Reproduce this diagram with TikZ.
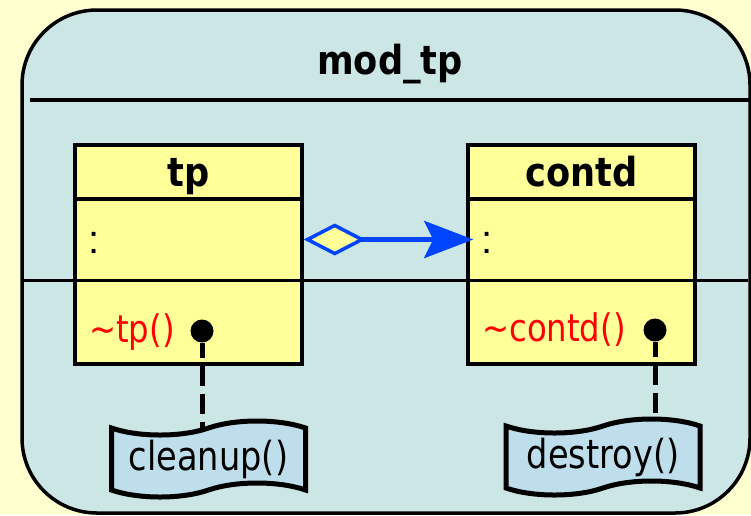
\documentclass[tikz,border=0pt]{standalone}
\usepackage{fontspec}
\usetikzlibrary{arrows.meta,shapes.symbols}
\newfontfamily\uifont[FakeStretch=0.85]{DejaVu Sans}
\newfontfamily\notefont[FakeStretch=0.84]{DejaVu Sans}
\newfontfamily\namefont[FakeStretch=0.88]{DejaVu Sans Bold}
\newfontfamily\titlefont[FakeStretch=0.88]{DejaVu Sans Bold}
\newfontfamily\colonfont{Liberation Sans}
\definecolor{paper}{RGB}{255,255,208}
\definecolor{pkgfill}{RGB}{204,229,229}
\definecolor{classfill}{RGB}{255,255,153}
\definecolor{notefill}{RGB}{190,222,236}
\definecolor{linkblue}{RGB}{0,68,255}
\definecolor{opred}{RGB}{255,0,0}
\pgfdeclarelayer{notes}
\pgfsetlayers{main,notes}
\tikzset{
  pkgbox/.style={draw=black, line width=3.5pt, fill=pkgfill, rounded corners=75pt,
    minimum width=728pt, minimum height=503pt, inner sep=0pt},
  classbox/.style={draw=black, line width=3.5pt, fill=classfill,
    minimum width=227pt, minimum height=219pt, inner sep=0pt},
  titletext/.style={font=\titlefont\fontsize{40}{44}\selectfont, anchor=base, inner sep=0pt},
  nametext/.style={font=\namefont\fontsize{40}{44}\selectfont, anchor=base, inner sep=0pt},
  attrtext/.style={font=\colonfont\fontsize{40}{44}\selectfont, anchor=base, inner sep=0pt},
  optext/.style={font=\uifont\fontsize{38}{42}\selectfont, text=opred, anchor=base west, inner sep=0pt},
  opdot/.style={circle, fill=black, minimum size=23pt, inner sep=0pt},
  notebox/.style={shape=tape, draw=black, line width=5pt, fill=notefill,
    minimum width=194pt, minimum height=76pt, tape bend height=14pt, inner sep=0pt,
    font=\notefont\fontsize{40}{44}\selectfont},
  noteline/.style={draw=black, line width=5pt, dash pattern=on 20pt off 8pt, dash phase=5pt},
  aggr/.style={draw=linkblue, line width=5pt,
    {Diamond[length=62pt,width=32pt,fill=classfill,line width=3.5pt]}-{Stealth[length=49pt,width=37pt,inset=9pt]}},
  rule/.style={draw=black, line width=3.5pt},
  thinrule/.style={draw=black, line width=3pt}
}
\begin{document}
\begin{tikzpicture}[x=1pt,y=-1pt]
  % page
  \fill[paper] (0,0) rectangle (751,515);
  \useasboundingbox (0,0) rectangle (751,515);

  % package frame and its title
  \node[pkgbox] (pkg) at (386,261.5) {};
  \node[titletext] (pkgname) at (390,74) {mod\_tp};
  \draw[rule] (30,100) -- (750,100);

  % classes
  \node[classbox] (tp) at (188.5,254.5) {};
  \node[classbox] (contd) at (581.5,254.5) {};
  \draw[rule] (tp.west |- 0,199) -- (tp.east |- 0,199);
  \draw[rule] (contd.west |- 0,199) -- (contd.east |- 0,199);
  \node[nametext] (tpname) at (188.5,186) {tp};
  \node[nametext] (contdname) at (581.5,186) {contd};
  \node[attrtext] (tpattr) at (94,253) {:};
  \node[attrtext] (contdattr) at (487,253) {:};

  % compartment rule running through both classes
  \draw[thinrule] (22,280) -- (748,280);

  % operations
  \node[optext] (tpop) at (89,342) {\char"007E tp()};
  \node[optext] (contdop) at (482,341) {\char"007E contd()};
  \node[opdot] (tpdot) at (202,331) {};
  \node[opdot] (contddot) at (655,330) {};

  % notes with the bodies of the destructors, kept above their links
  \begin{pgfonlayer}{notes}
    \node[notebox] (cleanup) at (208.5,459) {cleanup()};
    \node[notebox] (destroy) at (603,457) {destroy()};
  \end{pgfonlayer}
  \draw[noteline] (tpdot) -- (tpdot |- cleanup.center);
  \draw[noteline] (contddot) -- (contddot |- destroy.center);

  % aggregation
  \draw[aggr] ([yshift=15pt]tp.east) -- ([xshift=7pt,yshift=15pt]contd.west);
\end{tikzpicture}
\end{document}
